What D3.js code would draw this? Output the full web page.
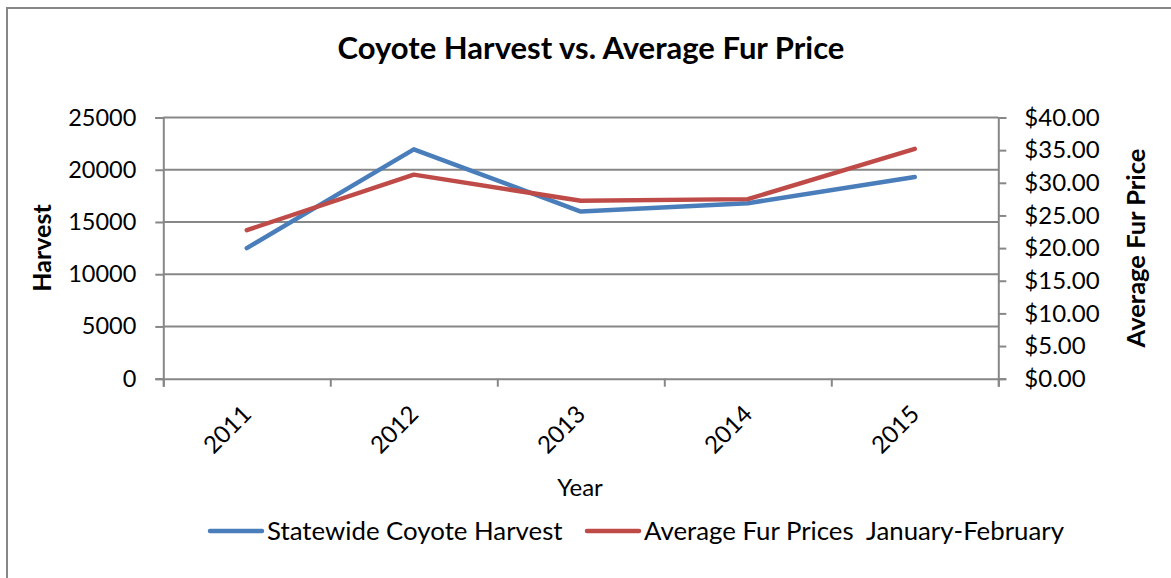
<!DOCTYPE html>
<html>
<head>
<meta charset="utf-8">
<script src="https://cdn.jsdelivr.net/npm/d3@7"></script>
<style>
  html, body { margin: 0; padding: 0; background: #fff; }
  svg { display: block; font-family: Lato, "Open Sans", sans-serif; }
</style>
</head>
<body>
<svg id="chart" width="1171" height="578"></svg>
<script>
const years = ["2011", "2012", "2013", "2014", "2015"];
const harvest = [12500, 21950, 16000, 16800, 19300];
const furPrice = [22.75, 31.25, 27.25, 27.50, 35.20];
const harvestTicks = [0, 5000, 10000, 15000, 20000, 25000];
const priceTicks = [0, 5, 10, 15, 20, 25, 30, 35, 40];
const seriesNames = ["Statewide Coyote Harvest", "Average Fur Prices  January-February"];
const colors = ["#4A7EBB", "#BE4B48"];

const svg = d3.select("#chart");
const L = 163.3, R = 998.3, T = 117.5, B = 378.7;
const grey = "#878787";

// outer border (extends past the image bottom/right)
svg.append("rect").attr("x", 7).attr("y", 8).attr("width", 1300).attr("height", 700)
  .attr("fill", "none").attr("stroke", grey).attr("stroke-width", 2);

const x = d3.scaleBand().domain(years).range([L, R]).padding(0);
const yL = d3.scaleLinear().domain([0, 25000]).range([B, T]);
const yR = d3.scaleLinear().domain([0, 40]).range([B, T]);

// gridlines
svg.append("g").selectAll("line").data(harvestTicks.slice(1)).join("line")
  .attr("x1", L).attr("x2", R)
  .attr("y1", d => yL(d)).attr("y2", d => yL(d))
  .attr("stroke", grey).attr("stroke-width", 2);

// left axis
const gL = svg.append("g").attr("transform", `translate(${L},0)`)
  .call(d3.axisLeft(yL).tickValues(harvestTicks).tickSize(8).tickPadding(19).tickFormat(d3.format("d")));
gL.select(".domain").attr("stroke", grey).attr("stroke-width", 2);
gL.selectAll(".tick line").attr("stroke", grey).attr("stroke-width", 2);
gL.selectAll(".tick text").attr("font-size", 23.5).attr("fill", "#000").attr("font-family", "Lato");

// right axis
const gR = svg.append("g").attr("transform", `translate(${R},0)`)
  .call(d3.axisRight(yR).tickValues(priceTicks).tickSize(8).tickPadding(18).tickFormat(d => "$" + d3.format(".2f")(d)));
gR.select(".domain").attr("stroke", grey).attr("stroke-width", 2);
gR.selectAll(".tick line").attr("stroke", grey).attr("stroke-width", 2);
gR.selectAll(".tick text").attr("font-size", 24).attr("fill", "#000").attr("font-family", "Lato");

// bottom axis: boundary ticks
const xb = d3.scaleLinear().domain([0, years.length]).range([L, R]);
const gB = svg.append("g").attr("transform", `translate(0,${B})`)
  .call(d3.axisBottom(xb).tickValues(d3.range(years.length + 1)).tickSize(8).tickFormat(""));
gB.select(".domain").attr("stroke", grey).attr("stroke-width", 2);
gB.selectAll(".tick line").attr("stroke", grey).attr("stroke-width", 2);

// bottom labels
const gBL = svg.append("g").attr("transform", `translate(0,${B})`)
  .call(d3.axisBottom(x).tickSize(0).tickPadding(0));
gBL.select(".domain").remove();
gBL.selectAll(".tick text")
  .attr("font-size", 24).attr("fill", "#000").attr("font-family", "Lato")
  .attr("text-anchor", "end")
  .attr("dy", "0")
  .attr("transform", "translate(6,37) rotate(-45)");

// lines
const lineL = d3.line().x((d, i) => x(years[i]) + x.bandwidth() / 2).y(d => yL(d));
const lineR = d3.line().x((d, i) => x(years[i]) + x.bandwidth() / 2).y(d => yR(d));
svg.append("path").attr("d", lineL(harvest)).attr("fill", "none")
  .attr("stroke", colors[0]).attr("stroke-width", 4.5).attr("stroke-linecap", "round").attr("stroke-linejoin", "round");
svg.append("path").attr("d", lineR(furPrice)).attr("fill", "none")
  .attr("stroke", colors[1]).attr("stroke-width", 4.5).attr("stroke-linecap", "round").attr("stroke-linejoin", "round");

// title
svg.append("text").attr("x", 591).attr("y", 59).attr("text-anchor", "middle")
  .attr("font-size", 31).attr("font-weight", "bold").attr("fill", "#000")
  .text("Coyote Harvest vs. Average Fur Price");

// axis titles
svg.append("text").attr("transform", "translate(51,248) rotate(-90)").attr("text-anchor", "middle")
  .attr("font-size", 25).attr("font-weight", "bold").text("Harvest");
svg.append("text").attr("transform", "translate(1145,248) rotate(-90)").attr("text-anchor", "middle")
  .attr("font-size", 25.5).attr("font-weight", "bold").text("Average Fur Price");
svg.append("text").attr("x", 580).attr("y", 496).attr("text-anchor", "middle")
  .attr("font-size", 24).text("Year");

// legend
const legendX = [210, 587];
const lg = svg.append("g");
seriesNames.forEach((n, i) => {
  lg.append("line").attr("x1", legendX[i]).attr("x2", legendX[i] + 52).attr("y1", 531).attr("y2", 531)
    .attr("stroke", colors[i]).attr("stroke-width", 4.5).attr("stroke-linecap", "round");
  lg.append("text").attr("x", legendX[i] + 57).attr("y", 540).attr("font-size", 25.8).attr("xml:space", "preserve")
    .style("white-space", "pre").text(n);
});
</script>
</body>
</html>
